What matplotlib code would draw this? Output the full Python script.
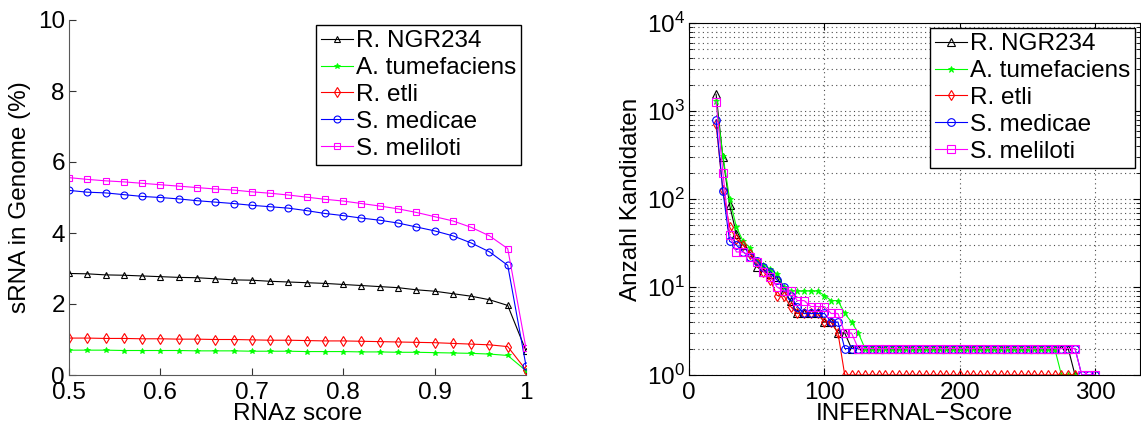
import matplotlib
matplotlib.use('Agg')
import matplotlib.pyplot as plt
import numpy as np

plt.rcParams['font.family'] = ['Liberation Sans', 'DejaVu Sans']
plt.rcParams['mathtext.fontset'] = 'custom'
plt.rcParams['mathtext.rm'] = 'Liberation Sans'
plt.rcParams['axes.unicode_minus'] = True

FONT_SIZE = 17.5

labels = ['R. NGR234', 'A. tumefaciens', 'R. etli', 'S. medicae', 'S. meliloti']
colors = ['k', '#00ff00', '#ff0000', '#0000ff', '#ff00ff']
markers = ['^', '*', 'd', 'o', 's']

# left panel: sRNA share vs RNAz score
rnaz_score = [0.50, 0.52, 0.54, 0.56, 0.58, 0.60, 0.62, 0.64, 0.66, 0.68, 0.70, 0.72, 0.74,
              0.76, 0.78, 0.80, 0.82, 0.84, 0.86, 0.88, 0.90, 0.92, 0.94, 0.96, 0.98, 1.00]
ngr234 = [2.86, 2.85, 2.82, 2.81, 2.79, 2.77, 2.75, 2.74, 2.71, 2.68, 2.67, 2.64, 2.62,
          2.60, 2.58, 2.55, 2.52, 2.49, 2.46, 2.40, 2.36, 2.29, 2.22, 2.12, 1.96, 0.68]
tumefaciens = [0.70, 0.70, 0.70, 0.69, 0.69, 0.69, 0.69, 0.68, 0.68, 0.68, 0.67, 0.67, 0.67,
               0.66, 0.66, 0.66, 0.65, 0.65, 0.64, 0.64, 0.63, 0.62, 0.61, 0.59, 0.55, 0.12]
etli = [1.04, 1.04, 1.03, 1.03, 1.02, 1.02, 1.01, 1.01, 1.00, 1.00, 0.99, 0.98, 0.98,
        0.97, 0.96, 0.96, 0.95, 0.94, 0.93, 0.92, 0.91, 0.89, 0.87, 0.85, 0.80, 0.14]
medicae = [5.20, 5.15, 5.13, 5.08, 5.03, 5.00, 4.96, 4.91, 4.87, 4.83, 4.78, 4.74, 4.70,
           4.63, 4.55, 4.49, 4.42, 4.36, 4.28, 4.17, 4.06, 3.92, 3.72, 3.47, 3.09, 0.26]
meliloti = [5.56, 5.51, 5.47, 5.44, 5.40, 5.36, 5.32, 5.28, 5.24, 5.21, 5.16, 5.12, 5.07,
            5.01, 4.95, 4.90, 4.83, 4.76, 4.68, 4.58, 4.46, 4.34, 4.16, 3.92, 3.56, 0.75]
rnaz_series = [ngr234, tumefaciens, etli, medicae, meliloti]

# right panel: number of candidates vs INFERNAL score (x = 20, 25, 30, ...)
infernal_score = list(range(20, 305, 5))
cand_ngr234 = [1550, 300, 85, 40, 30, 25, 17, 15, 14, 13, 9, 7, 5, 5, 5, 5, 4, 4, 3, 3, 2] \
    + [2] * 32 + [1]
cand_tumefaciens = [1300, 310, 100, 48, 33, 28, 20, 18, 16, 14, 10, 9, 9, 9, 9, 9, 8, 7, 7, 5, 4, 3] \
    + [2] * 29 + [1, 1, 1]
cand_etli = [710, 125, 48, 35, 30, 24, 19, 15, 12, 8, 8, 6, 5, 5, 5, 5, 4, 4, 3] \
    + [1] * 35
cand_medicae = [790, 123, 33, 30, 25, 22, 20, 17, 15, 12, 10, 8, 6, 5, 5, 5, 5, 4, 4] \
    + [2] * 35 + [1, 1, 1]
cand_meliloti = [1280, 200, 39, 25, 25, 22, 19, 15, 13, 10, 9, 9, 7, 7, 6, 6, 6, 5, 5, 3, 3] \
    + [2] * 33 + [1, 1, 1]
cand_series = [cand_ngr234, cand_tumefaciens, cand_etli, cand_medicae, cand_meliloti]


def marker_style(mk, col, size):
    if mk == '*':
        return dict(marker=mk, markersize=size - 1, markerfacecolor=col, markeredgewidth=0.6)
    return dict(marker=mk, markersize=size, markerfacecolor='none', markeredgewidth=0.8)


def add_legend(ax):
    leg = ax.legend(loc='upper right', bbox_to_anchor=(1.0, 1.0), fontsize=FONT_SIZE,
                    frameon=True, fancybox=False, framealpha=1, edgecolor='k',
                    borderaxespad=0.2, borderpad=0.22, labelspacing=0.2,
                    handlelength=1.3, handletextpad=0.12)
    leg.get_frame().set_linewidth(1.0)
    return leg


fig = plt.figure(figsize=(11.41, 4.28), dpi=100)

# ---- left
ax1 = fig.add_axes([69 / 1141, 53 / 428, 457 / 1141, 355 / 428])
for vals, lab, col, mk in zip(rnaz_series, labels, colors, markers):
    ax1.plot(rnaz_score, vals, color=col, linewidth=0.8, label=lab, **marker_style(mk, col, 5))
ax1.set_xlim(0.5, 1.0)
ax1.set_ylim(0, 10)
ax1.set_xticks([0.5, 0.6, 0.7, 0.8, 0.9, 1.0])
ax1.set_xticklabels(['0.5', '0.6', '0.7', '0.8', '0.9', '1'])
ax1.set_yticks([0, 2, 4, 6, 8, 10])
ax1.spines['top'].set_visible(False)
ax1.spines['right'].set_visible(False)
for s in ['left', 'bottom']:
    ax1.spines[s].set_color('0.35')
ax1.tick_params(direction='in', length=5, labelsize=FONT_SIZE, color='0.2')
ax1.tick_params(axis='x', pad=5)
ax1.tick_params(axis='y', pad=3)
ax1.set_xlabel('RNAz score', fontsize=FONT_SIZE, labelpad=-1)
ax1.set_ylabel('sRNA in Genome (%)', fontsize=FONT_SIZE, labelpad=5)
add_legend(ax1)

# ---- right
ax2 = fig.add_axes([689 / 1141, 53 / 428, 451 / 1141, 352 / 428])
for vals, lab, col, mk in zip(cand_series, labels, colors, markers):
    ax2.semilogy(infernal_score[:len(vals)], vals, color=col, linewidth=0.8, label=lab,
                 **marker_style(mk, col, 5.5))
ax2.set_xlim(0, 333)
ax2.set_ylim(1, 1e4)
ax2.set_xticks([0, 100, 200, 300])
ax2.grid(True, which='major', axis='both', linestyle=(0, (1, 3)), color='0.3', linewidth=0.8)
ax2.grid(True, which='minor', axis='y', linestyle=(0, (1, 3)), color='0.3', linewidth=0.8)
ax2.tick_params(direction='in', which='both', labelsize=FONT_SIZE, top=True, right=True)
ax2.tick_params(which='major', length=5)
ax2.tick_params(which='minor', length=3)
ax2.tick_params(axis='x', pad=5)
ax2.tick_params(axis='y', pad=3)
ax2.set_xlabel('INFERNAL\u2212Score', fontsize=FONT_SIZE, labelpad=-1)
ax2.set_ylabel('Anzahl Kandidaten', fontsize=FONT_SIZE, labelpad=3)
add_legend(ax2)

fig.savefig('out.png', dpi=100)
